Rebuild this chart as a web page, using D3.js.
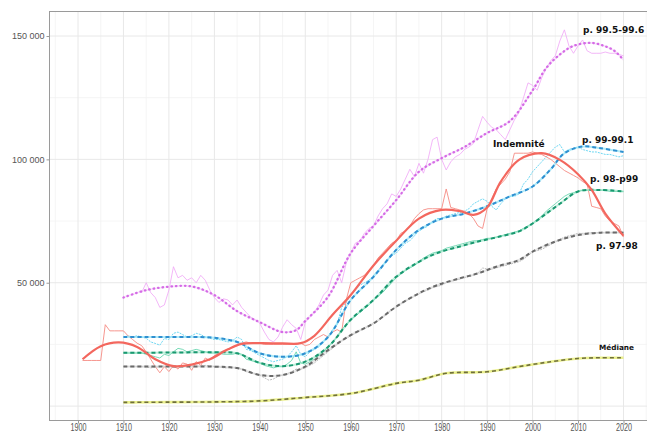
<!DOCTYPE html>
<html><head><meta charset="utf-8">
<script src="https://cdn.jsdelivr.net/npm/d3@7/dist/d3.min.js"></script>
<style>body{margin:0;background:#fff}svg{display:block}</style>
</head><body><svg id="c" width="647" height="432"></svg>
<script>
// ---------- DATA (values in thousands) ----------
const xTicks = [1900,1910,1920,1930,1940,1950,1960,1970,1980,1990,2000,2010,2020];
const xTickLabels = ["1900","1910","1920","1930","1940","1950","1960","1970","1980","1990","2000","2010","2020"];
const yTicks = [50,100,150];
const yTickLabels = ["50 000","100 000","150 000"];
const seriesNames = ["p. 99.5-99.6","p. 99-99.1","Indemnité","p. 98-p99","p. 97-98","Médiane"];

// raw yearly series
const indemRawStart = 1901;
const indemRaw = [18.5,18.5,18.5,18.5,18.5,33,30.5,30.5,30.5,30.5,
 28.5,27,25.5,24.5,22,19,16,13.5,16,14,
 16.5,15,17.5,17,14.5,18,16.5,19.5,18.5,20.5,
 21.5,22.5,23,24,24.5,25.5,26,25.5,25.5,25.5,
 25,25,25,25,25,25,25,25,25.5,24.5,
 25,27,28,29,28,30,31,30,43,50,
 51,52,53,55,57,60,62,64,66,67,
 70,71,73,76,78,79.5,80,80,80,80,
 88,80.5,80,79.5,79,78,76,73,72,80,
 84,88,90,92,95,102.5,102.5,102.5,102.5,103,
 102.5,102,101,100,98.5,97,95.5,94.5,93.5,92.5,
 91,90,81,80.5,80,77,75,74,73,68.5];

const p995RawStart = 1914;
const p995Raw = [46,50,46,44,40,41,47,
 56.5,52,53,51,52,50,53,51,47,44,
 42,43.5,43,41,43,40,38,36,35,33.5,
 30,27,26,28,32,35,33,31.5,27,34,
 36,38,41,45,47,53,55,50,58,62,
 66,67,70,72,73,77,80,82,86,85,
 88,92,96,93,98.4,94.4,100,108,109,100,
 95.7,99,101,102,104,105,106.5,112,117.4,115,
 113,112,110,108,112,116,119,125,131,130,
 128,133,137,140,142,148,152.5,146,143,146,
 148.4,144,143,143,143,143.5,143,143,142.5,142];

const p99RawStart = 1910;
const p99Raw = [28,28.5,28,28.5,28,27.5,26,25.4,24.7,27.4,27,
 29.5,30,29,28,28.5,29.5,29,28,27.5,27,
 27,26.5,26,26.5,28,27,23,22.5,21.5,20.5,
 19.5,18.5,18,18.5,19,20,22,24.5,21,20,
 22,23,24,26,28,31,33,40,42,45,
 47,49,50,51,53,55,57,59,61,62,
 64,66,67,69,71,72,73,75,76,76,
 77,77.5,78,78.5,79,80,82,83,84,83,
 81,79.5,82,84,85,85,86,90,92,95,
 97,99,101,103,105,106,103,104,104.5,105,
 104,103.5,103,103,102.5,102,102,101.5,101,101.5];

const p98RawStart = 1910;
const p98Raw = [21.5,21.5,21.5,21.5,21.5,21,20.5,20,19.5,21,20.5,
 22,23.4,23,22,22.5,23,22.5,22,21.5,21.5,
 21.5,21,21,21,21.5,21,19,18.5,18,17.5,
 16.5,16,15.5,16,16,17,18.5,22,17.5,17,
 18,19,20.5,22,24,26,28,31,33,35,
 36.5,38,39.5,41,43,44.5,46,48,50,52,
 53.5,55,56,57,58.5,60,61,62,62.5,63,
 64,64.5,65,65.5,66,66.5,67,67,67.5,68,
 68,68.5,69,69.5,70,70.5,71,72,73,74,
 75.5,77,79,80.5,82,83.5,85,86,86.5,87,
 87.5,87.5,87.5,87.5,87.5,87.5,87,87,87,87];

const p97RawStart = 1910;
const p97Raw = [16,16,16,16,16,15.8,15.5,15.8,16,16.2,
 16,15.8,16,16.2,16.5,16.2,16,16.3,16.5,16.3,
 16,16,15.5,15.5,15.5,15.5,15,14,13.5,13,
 12.5,11.5,10.5,11,12,12.5,13,14,15,15,
 15.5,16.5,17.5,19,20.5,22,23.5,25,26.5,27.5,
 28.5,29.5,30.5,31.5,32.5,33.5,34.5,36,37.5,39,
 40,41.5,42.5,43.5,44.5,45.5,46.5,47,48,48.5,
 49,50,50.5,51,51.5,52,52.5,53,54,56,
 55.5,55.5,56,56.5,57,57.5,58,58.5,59.5,61,
 62.5,63,63.5,64.5,65.5,66.5,67.5,68.5,69,69.5,
 70,70,70.2,70.3,70.3,70.3,70.3,70.3,70.3,70.5,70.5];

// smoothed series
const indemSmYears = [1901,1905,1909,1913,1917,1921,1925,1929,1933,1936,1940,1945,1949,1952,1956,1960,1965,1970,1975,1980,1984,1987,1990,1993,1997,2002,2006,2010,2013,2016,2020];
const indemSm = [19,24.3,25.8,24,19,16.2,16.8,19,23,25.2,25.5,25.4,25.5,28.5,37,45,57,67,76,79.5,79,77.5,80.5,91,99.8,102.5,99.8,94,87.6,78,69];

const p995SmYears = [1910,1915,1920,1925,1930,1935,1940,1945,1948,1950,1955,1960,1965,1970,1975,1980,1985,1990,1995,2000,2003,2006,2009,2013,2016,2018,2020];
const p995Sm = [44,47,48.4,48.5,45,38.5,34,30,30.8,34.5,44.3,62,73,83.5,95,100.5,105,110.7,115.5,128,137,142.5,146,147.2,145.8,144,140.3];

const p99SmYears = [1910,1915,1920,1925,1930,1935,1940,1945,1950,1955,1960,1965,1970,1975,1980,1985,1990,1995,2000,2004,2007,2011,2015,2020];
const p99Sm = [28,28,28,28,27.7,26,21.4,20,21.4,28,43,52.4,63.3,71.4,76,78,81,85,89,96,102.5,105.2,104.5,103];

const p98SmYears = [1910,1920,1930,1935,1940,1945,1950,1955,1960,1965,1970,1975,1979,1984,1988,1993,1997,2000,2003,2006,2010,2015,2020];
const p98Sm = [21.6,21.7,21.8,21.4,17.5,16.2,18,24,35,43,52.4,58.5,62,64.7,66.7,68.8,70.8,74,78,82,87,87.6,87];

const p97SmYears = [1910,1920,1930,1935,1940,1945,1950,1955,1960,1965,1970,1975,1979,1984,1988,1992,1997,2000,2005,2010,2015,2020];
const p97Sm = [16,16,16,15.4,12.6,12.6,16,22.7,28.8,33.5,40.3,45.7,49,51.8,53.8,56.5,59.2,62.6,66.7,69.3,70.3,70.3];

const medianYears = [1910,1920,1930,1940,1950,1960,1970,1975,1981,1990,1997,2004,2010,2015,2020];
const median = [1.5,1.6,1.7,2.1,3.5,5.1,9.2,10.5,13.3,13.9,16,18,19.3,19.6,19.6];

// ---------- CHART ----------
const svg = d3.select("#c");
const panel = {l:49, t:11, r:660, b:420};
const x = d3.scaleLinear().domain([1900,2020]).range([78,623.5]);
const y = d3.scaleLinear().domain([0,150]).range([406.1,36]);

svg.append("rect").attr("width",647).attr("height",432).attr("fill","#fff");
svg.append("defs").append("clipPath").attr("id","clip").append("rect")
  .attr("x",panel.l).attr("y",panel.t).attr("width",panel.r-panel.l).attr("height",panel.b-panel.t);

const grid = svg.append("g");
const minorX = d3.range(1895,2030,10);
grid.selectAll(".mx").data(minorX).enter().append("line")
  .attr("x1",d=>x(d)).attr("x2",d=>x(d)).attr("y1",panel.t).attr("y2",panel.b)
  .attr("stroke","#f3f3f3").attr("stroke-width",0.8);
grid.selectAll(".my").data([25,75,125]).enter().append("line")
  .attr("x1",panel.l).attr("x2",panel.r).attr("y1",d=>y(d)).attr("y2",d=>y(d))
  .attr("stroke","#f3f3f3").attr("stroke-width",0.8);
grid.selectAll(".Mx").data(xTicks).enter().append("line")
  .attr("x1",d=>x(d)).attr("x2",d=>x(d)).attr("y1",panel.t).attr("y2",panel.b)
  .attr("stroke","#e8e8e8").attr("stroke-width",1);
grid.selectAll(".My").data([0].concat(yTicks)).enter().append("line")
  .attr("x1",panel.l).attr("x2",panel.r).attr("y1",d=>y(d)).attr("y2",d=>y(d))
  .attr("stroke","#e8e8e8").attr("stroke-width",1);

svg.append("line").attr("x1",panel.l).attr("x2",647).attr("y1",panel.t+0.5).attr("y2",panel.t+0.5).attr("stroke","#9a9a9a");
svg.append("line").attr("x1",panel.l+0.5).attr("x2",panel.l+0.5).attr("y1",panel.t).attr("y2",panel.b).attr("stroke","#9a9a9a");
svg.append("line").attr("x1",panel.l).attr("x2",647).attr("y1",panel.b+0.5).attr("y2",panel.b+0.5).attr("stroke","#9a9a9a");

const xAxis = svg.append("g").attr("transform",`translate(0,${panel.b+0.5})`)
  .call(d3.axisBottom(x).tickValues(xTicks).tickFormat((d,i)=>xTickLabels[i]).tickSize(3).tickPadding(0));
xAxis.select(".domain").remove();
xAxis.selectAll("line").attr("stroke","#9a9a9a");
xAxis.selectAll("text").attr("dy",null).attr("y",10.3)
  .attr("font-family","Liberation Sans, Arial, sans-serif").attr("font-size",10)
  .attr("fill","#555").attr("textLength",16).attr("lengthAdjust","spacingAndGlyphs");

const yAxis = svg.append("g").attr("transform",`translate(${panel.l+0.5},0)`)
  .call(d3.axisLeft(y).tickValues(yTicks).tickFormat((d,i)=>yTickLabels[i]).tickSize(3).tickPadding(2));
yAxis.select(".domain").remove();
yAxis.selectAll("line").attr("stroke","#9a9a9a");
yAxis.selectAll("text").attr("font-family","Liberation Sans, Arial, sans-serif").attr("font-size",9).attr("fill","#555");

const plot = svg.append("g").attr("clip-path","url(#clip)");
function draw(years, vals, opts){
  const line = d3.line().x((d,i)=>x(years[i])).y(d=>y(d)).curve(opts.curve||d3.curveLinear);
  const p = plot.append("path").datum(vals).attr("d",line).attr("fill","none")
    .attr("stroke",opts.color).attr("stroke-width",opts.w||1)
    .attr("stroke-linecap",opts.cap||"butt").attr("stroke-linejoin","round");
  if(opts.dash) p.attr("stroke-dasharray",opts.dash);
  if(opts.op) p.attr("stroke-opacity",opts.op);
}
const yr = (s,arr)=>arr.map((_,i)=>s+i);
const smooth = d3.curveCatmullRom.alpha(0.5);

// raw lines
draw(yr(p97RawStart,p97Raw), p97Raw, {color:"#a8a8a8", w:0.8, dash:"2,1"});
draw(yr(p98RawStart,p98Raw), p98Raw, {color:"#55d0a4", w:0.8});
draw(yr(p99RawStart,p99Raw), p99Raw, {color:"#49cdef", w:0.8, dash:"2,1"});
draw(yr(p995RawStart,p995Raw), p995Raw, {color:"#f0a4f6", w:0.8});
draw(yr(indemRawStart,indemRaw), indemRaw, {color:"#f58a82", w:0.9});

// smoothed lines
draw(medianYears, median, {color:"#e6ec72", w:2.6, op:0.8, curve:smooth});
draw(medianYears, median, {color:"#6f6f3c", w:1.6, dash:"4,3", curve:smooth});
draw(p97SmYears, p97Sm, {color:"#d4d4d4", w:2, op:0.6, curve:smooth});
draw(p97SmYears, p97Sm, {color:"#6a6a6a", w:2, dash:"4,3", curve:smooth});
draw(p98SmYears, p98Sm, {color:"#8ee2bf", w:2, op:0.6, curve:smooth});
draw(p98SmYears, p98Sm, {color:"#1a9870", w:2, dash:"4,3", curve:smooth});
draw(p99SmYears, p99Sm, {color:"#8fe3f7", w:2, op:0.7, curve:smooth});
draw(p99SmYears, p99Sm, {color:"#2f8fd0", w:2, dash:"4,3", curve:smooth});
draw(p995SmYears, p995Sm, {color:"#f4d2f8", w:2, op:0.6, curve:smooth});
draw(p995SmYears, p995Sm, {color:"#d56be6", w:2.3, dash:"0.5,4", cap:"round", curve:smooth});
draw(indemSmYears, indemSm, {color:"#f3675e", w:2.2, curve:smooth});

// series labels
const labelPos = [[583,33],[582,143],[493,147],[590,182],[596,249],[599,350]];
const labelSize = [9,9,9,9,9,7.3];
svg.selectAll(".lab").data(seriesNames).enter().append("text")
  .attr("x",(d,i)=>labelPos[i][0]).attr("y",(d,i)=>labelPos[i][1])
  .attr("font-family","DejaVu Sans, sans-serif").attr("font-weight","bold")
  .attr("font-size",(d,i)=>labelSize[i]).attr("fill","#111").text(d=>d);
</script></body></html>
